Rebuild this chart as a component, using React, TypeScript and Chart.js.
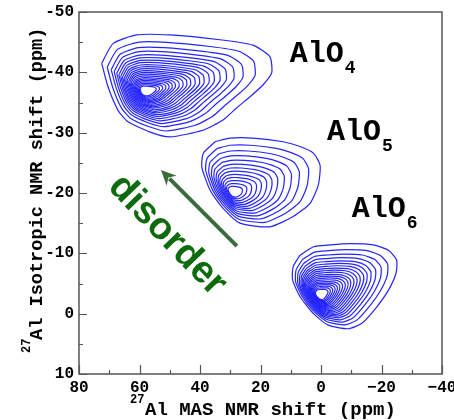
import { useEffect, useRef } from 'react';
import { Chart, registerables } from 'chart.js';

Chart.register(...registerables);

// Axis ticks
const xTickValues = [80, 60, 40, 20, 0, -20, -40];
const xTickLabels = ['80', '60', '40', '20', '0', '−20', '−40'];
const yTickValues = [-50, -40, -30, -20, -10, 0, 10];
const yTickLabels = ['-50', '-40', '-30', '-20', '-10', '0', '10'];

// AlO4 peak: outer contour (ppm), peak maximum, contour levels (fraction of outer)
const alo4OuterX = [72.5, 68.7, 60.9, 49.9, 33.4, 22.5, 16.9, 16.3, 19.2, 22.9, 27.9, 32.4, 39.0, 49.9, 56.5, 63.8, 67.1, 70.4];
const alo4OuterY = [-41.5, -44.8, -46.2, -46.2, -45.4, -44.5, -42.6, -39.9, -37.9, -36.2, -34.1, -32.1, -30.4, -29.3, -30.1, -31.8, -33.7, -37.6];
const alo4Peak = [58.5, -36.8];
const alo4Levels = [1.0, 0.87, 0.775, 0.705, 0.645, 0.595, 0.55, 0.51, 0.47, 0.435, 0.4, 0.365, 0.335, 0.305, 0.275, 0.245, 0.22, 0.195, 0.17, 0.145, 0.12, 0.095];

// AlO5 peak
const alo5OuterX = [35.0, 38.9, 39.4, 36.7, 32.8, 26.8, 16.9, 9.2, 3.6, 0.9, 0.3, 2.5, 6.9, 12.5, 22.4, 30.1];
const alo5OuterY = [-28.5, -26.6, -24.3, -20.5, -17.7, -15.0, -14.4, -16.1, -18.3, -21.3, -24.6, -26.6, -27.7, -28.5, -29.1, -29.1];
const alo5Peak = [29.5, -20.0];
const alo5Levels = [1.0, 0.87, 0.765, 0.675, 0.595, 0.52, 0.455, 0.395, 0.335, 0.28, 0.225, 0.17, 0.12];

// AlO6 peak
const alo6OuterX = [6.9, 9.2, 9.4, 6.9, 2.5, -2.4, -9.0, -13.5, -18.4, -22.3, -24.8, -25.0, -22.3, -17.3, -9.6, -3.0, 2.5];
const alo6OuterY = [-9.7, -7.8, -5.6, -2.8, 0.0, 1.9, 2.5, 1.6, -1.1, -3.9, -6.7, -8.9, -10.5, -11.4, -11.6, -11.4, -11.1];
const alo6Peak = [0.8, -3.0];
const alo6Levels = [1.0, 0.885, 0.8, 0.73, 0.67, 0.62, 0.575, 0.53, 0.49, 0.45, 0.41, 0.375, 0.34, 0.305, 0.27, 0.24, 0.21, 0.18, 0.15, 0.12];

// Annotations (data coordinates)
const speciesNames = ['AlO', 'AlO', 'AlO'];
const speciesSubs = ['4', '5', '6'];
const speciesX = [10.3, -2.0, -10.2];
const speciesY = [-41.7, -28.8, -16.0];
const disorderText = 'disorder';
const disorderPos = [50.8, -13.0];
const arrowFrom = [27.8, -11.2];
const arrowTo = [52.9, -23.8];

const MONO = "'Liberation Mono', 'Courier New', monospace";
const SANS = "'Liberation Sans', Arial, sans-serif";
const CONTOUR_COLOR = '#2424ff';

function makeRings(ox: number[], oy: number[], peak: number[], levels: number[]) {
  return levels.map((f) => {
    const pts = ox.map((x, i) => ({ x: peak[0] + f * (x - peak[0]), y: peak[1] + f * (oy[i] - peak[1]) }));
    pts.push({ ...pts[0] });
    return pts;
  });
}

const overlayPlugin = {
  id: 'overlay',
  afterDraw(chart: any) {
    const { ctx, chartArea: a, scales } = chart;
    const xs = scales.x;
    const ys = scales.y;
    ctx.save();
    // frame
    ctx.strokeStyle = '#555';
    ctx.lineWidth = 1.5;
    ctx.strokeRect(a.left, a.top, a.right - a.left, a.bottom - a.top);
    // inward ticks
    ctx.lineWidth = 1.2;
    ctx.beginPath();
    for (let v = -40; v <= 80; v += 10) {
      const px = Math.round(xs.getPixelForValue(v)) + 0.5;
      const len = v % 20 === 0 ? 9 : 4;
      ctx.moveTo(px, a.bottom);
      ctx.lineTo(px, a.bottom - len);
    }
    for (let v = -50; v <= 10; v += 5) {
      const py = Math.round(ys.getPixelForValue(v)) + 0.5;
      const len = v % 10 === 0 ? 8 : 4;
      ctx.moveTo(a.left, py);
      ctx.lineTo(a.left + len, py);
    }
    ctx.stroke();

    // species labels
    ctx.fillStyle = '#000';
    ctx.textAlign = 'left';
    ctx.textBaseline = 'alphabetic';
    speciesNames.forEach((name, i) => {
      const px = xs.getPixelForValue(speciesX[i]);
      const py = ys.getPixelForValue(speciesY[i]);
      ctx.font = `bold 30px ${MONO}`;
      ctx.fillText(name, px, py);
      const w = ctx.measureText(name).width;
      ctx.font = `bold 18px ${MONO}`;
      ctx.fillText(speciesSubs[i], px + w + 1, py + 11);
    });

    // arrow
    const x0 = xs.getPixelForValue(arrowFrom[0]);
    const y0 = ys.getPixelForValue(arrowFrom[1]);
    const x1 = xs.getPixelForValue(arrowTo[0]);
    const y1 = ys.getPixelForValue(arrowTo[1]);
    const ang = Math.atan2(y1 - y0, x1 - x0);
    const headLen = 15;
    const headW = 7;
    ctx.strokeStyle = '#3a6b3a';
    ctx.fillStyle = '#3a6b3a';
    ctx.lineWidth = 4;
    ctx.beginPath();
    ctx.moveTo(x0, y0);
    ctx.lineTo(x1 - Math.cos(ang) * headLen * 0.8, y1 - Math.sin(ang) * headLen * 0.8);
    ctx.stroke();
    ctx.beginPath();
    ctx.moveTo(x1, y1);
    ctx.lineTo(x1 - Math.cos(ang) * headLen + Math.sin(ang) * headW, y1 - Math.sin(ang) * headLen - Math.cos(ang) * headW);
    ctx.lineTo(x1 - Math.cos(ang) * headLen * 0.7, y1 - Math.sin(ang) * headLen * 0.7);
    ctx.lineTo(x1 - Math.cos(ang) * headLen - Math.sin(ang) * headW, y1 - Math.sin(ang) * headLen + Math.cos(ang) * headW);
    ctx.closePath();
    ctx.fill();

    // disorder text
    ctx.save();
    ctx.translate(xs.getPixelForValue(disorderPos[0]), ys.getPixelForValue(disorderPos[1]));
    ctx.rotate((46 * Math.PI) / 180);
    ctx.font = `bold 38px ${SANS}`;
    ctx.fillStyle = '#0d6b0d';
    ctx.textAlign = 'center';
    ctx.textBaseline = 'middle';
    ctx.fillText(disorderText, 0, 0);
    ctx.restore();

    // axis titles
    ctx.fillStyle = '#000';
    ctx.textAlign = 'left';
    ctx.textBaseline = 'alphabetic';
    // x title
    ctx.font = `bold 12px ${MONO}`;
    ctx.fillText('27', 130, 403);
    ctx.font = `bold 19px ${MONO}`;
    ctx.fillText('Al MAS NMR shift (ppm)', 145, 415);
    // y title
    ctx.save();
    ctx.translate(42, 353);
    ctx.rotate(-Math.PI / 2);
    ctx.font = `bold 12px ${MONO}`;
    ctx.fillText('27', 0, -12);
    ctx.font = `bold 18.6px ${MONO}`;
    ctx.fillText('Al Isotropic NMR shift (ppm)', 13, 0);
    ctx.restore();

    ctx.restore();
  },
};

export default function App() {
  const ref = useRef<HTMLCanvasElement | null>(null);
  useEffect(() => {
    if (!ref.current) return;
    const rings = [
      ...makeRings(alo4OuterX, alo4OuterY, alo4Peak, alo4Levels),
      ...makeRings(alo5OuterX, alo5OuterY, alo5Peak, alo5Levels),
      ...makeRings(alo6OuterX, alo6OuterY, alo6Peak, alo6Levels),
    ];
    const tickFont = { family: MONO, size: 16, weight: 'bold' as const };
    const chart = new Chart(ref.current, {
      type: 'scatter',
      data: {
        datasets: rings.map((pts) => ({
          data: pts,
          showLine: true,
          borderColor: CONTOUR_COLOR,
          borderWidth: 1.2,
          pointRadius: 0,
          tension: 0.2,
          fill: false,
        })),
      },
      options: {
        responsive: false,
        animation: false,
        layout: { padding: { top: 12, right: 12, left: 0, bottom: 0 } },
        plugins: { legend: { display: false }, tooltip: { enabled: false } },
        scales: {
          x: {
            type: 'linear',
            min: -40,
            max: 80,
            reverse: true,
            grid: { display: false, drawTicks: false },
            border: { display: false },
            afterFit: (s: any) => { s.height = 46; s.paddingLeft = 0; s.paddingRight = 0; },
            afterBuildTicks: (s: any) => { s.ticks = xTickValues.map((v) => ({ value: v })); },
            ticks: {
              autoSkip: false,
              maxRotation: 0,
              padding: 4,
              color: '#000',
              font: tickFont,
              callback: (v: any) => xTickLabels[xTickValues.indexOf(Number(v))] ?? '',
            },
          },
          y: {
            type: 'linear',
            min: -50,
            max: 10,
            reverse: true,
            grid: { display: false, drawTicks: false },
            border: { display: false },
            afterFit: (s: any) => { s.width = 79; s.paddingTop = 0; s.paddingBottom = 0; },
            afterBuildTicks: (s: any) => { s.ticks = yTickValues.map((v) => ({ value: v })); },
            ticks: {
              autoSkip: false,
              padding: 5,
              color: '#000',
              font: tickFont,
              callback: (v: any) => yTickLabels[yTickValues.indexOf(Number(v))] ?? '',
            },
          },
        },
      },
      plugins: [overlayPlugin],
    });
    return () => chart.destroy();
  }, []);
  return (
    <div style={{ position: 'absolute', left: 0, top: 0, width: 454, height: 420, background: '#fff' }}>
      <canvas ref={ref} width={454} height={420} style={{ display: 'block' }} />
    </div>
  );
}
